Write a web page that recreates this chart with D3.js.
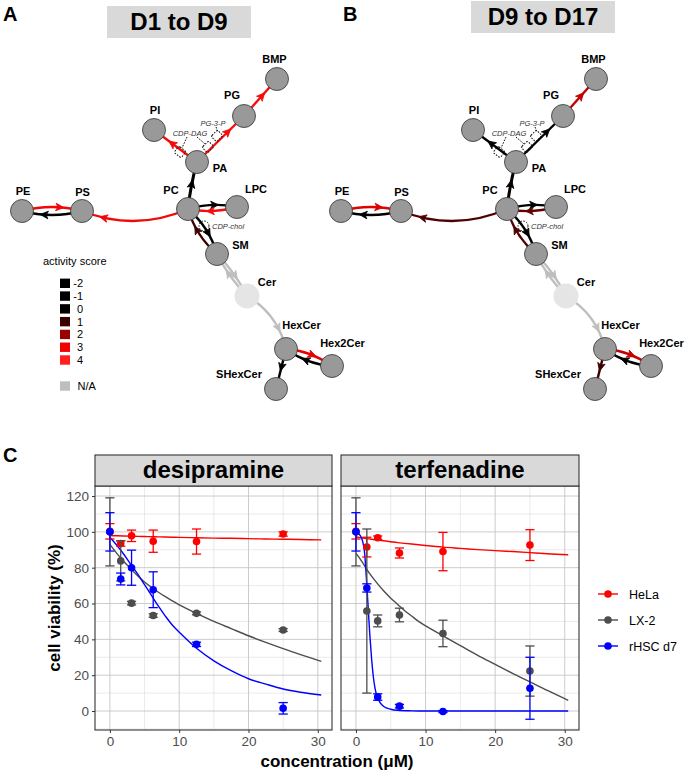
<!DOCTYPE html>
<html>
<head>
<meta charset="utf-8">
<script src="https://cdn.jsdelivr.net/npm/d3@7"></script>
<style>
  body { margin: 0; background: #fff; }
  svg { font-family: "Liberation Sans", Arial, sans-serif; }
</style>
</head>
<body>
<svg id="fig" width="686" height="772"></svg>
<script>
// ---------- network data ----------
const nodeNames = ["PE", "PS", "PC", "LPC", "PA", "PI", "PG", "BMP", "SM", "Cer", "HexCer", "Hex2Cer", "SHexCer"];
const edgeSource = ["PE", "PS", "PC", "PC", "LPC", "PC", "PA", "PA", "PG", "SM", "PC", "SM", "Cer", "Cer", "HexCer", "Hex2Cer", "HexCer"];
const edgeTarget = ["PS", "PE", "PS", "LPC", "PC", "PA", "PI", "PG", "BMP", "PC", "SM", "Cer", "SM", "HexCer", "Hex2Cer", "HexCer", "SHexCer"];
const scoreD1toD9  = [3.2, -1, 3.2, 0, 3.4, 0, 3.3, 3.4, 3.4, 1, 0, null, null, null, 2.9, -1, 0];
const scoreD9toD17 = [2.8, -1, 1.2, 0, 1.4, -1, 0, 0, 2.5, 1.2, 0, null, null, null, 2.5, -1, 1];
const legendScores = [-2, -1, 0, 1, 2, 3, 4];

// ---------- viability data ----------
const concentration = [0, 1.5625, 3.125, 6.25, 12.5, 25];
const cellLines = ["HeLa", "LX-2", "rHSC d7"];

const desHeLaMean = [100.3, 93.5, 97.8, 94.8, 94.6, 98.8];
const desHeLaSd   = [4.3, 1.5, 3.2, 6.2, 7.0, 1.2];
const desLX2Mean  = [100, 83.8, 60.2, 53.3, 54.5, 45.2];
const desLX2Sd    = [19, 11.2, 1.0, 1.0, 0.8, 0.8];
const desRHSCMean = [100, 73.7, 80, 67.7, 37.2, 1.5];
const desRHSCSd   = [10.7, 3.3, 9.8, 10, 1.2, 3.2];

const terfHeLaMean = [100.3, 91.5, 96.7, 88.2, 89, 92.6];
const terfHeLaSd   = [4.3, 5.5, 1.0, 2.8, 10.7, 8.6];
const terfLX2Mean  = [100, 55.8, 50.3, 53.6, 43.3, 22.3];
const terfLX2Sd    = [19, 45.8, 3.3, 3.8, 7.4, 14];
const terfRHSCMean = [100, 68.7, 7.8, 2.7, -0.3, 12.7];
const terfRHSCSd   = [10.7, 2.3, 1.8, 1.0, 0.5, 17.3];

// fitted curves
const desFitX     = [0, 1, 2, 3, 4, 5, 6, 7, 8, 9, 10, 12.5, 15, 17.5, 20, 22.5, 25, 27.5, 30.5];
const desHeLaFit  = [97.9, 97.8, 97.7, 97.6, 97.5, 97.4, 97.3, 97.2, 97.1, 97.0, 96.9, 96.7, 96.5, 96.4, 96.2, 96.0, 95.9, 95.7, 95.5];
const desLX2Fit   = [93, 88, 83.5, 79.5, 75.5, 72, 69, 66.3, 63.8, 61.5, 59.3, 54.5, 50, 46, 42, 38.3, 34.8, 31.5, 27.7];
const desRHSCFit  = [97, 92.5, 87.5, 82, 76.5, 70.5, 64.5, 58.5, 53, 48, 44, 35, 28, 22.5, 18, 15, 12.3, 10.5, 8.9];

const terfFitX    = [0, 0.5, 1, 1.5, 2, 3, 4, 5, 6, 7, 8, 9, 10, 12.5, 15, 17.5, 20, 22.5, 25, 27.5, 30.5];
const terfHeLaFit = [97.2, 96.9, 96.6, 96.3, 96.0, 95.5, 95.0, 94.5, 94.0, 93.6, 93.2, 92.8, 92.4, 91.5, 90.8, 90.1, 89.5, 89.0, 88.4, 87.8, 87.2];
const terfLX2Fit  = [88, 85.5, 82.5, 79.5, 76.5, 71.5, 67, 63, 59.5, 56, 53, 50, 47.5, 42, 36.5, 31, 26, 21, 16.3, 11.5, 6];
const terfRHSCFitX = [0, 0.5, 1, 1.25, 1.5, 1.75, 2, 2.25, 2.5, 2.75, 3, 3.5, 4, 5, 6, 8, 10, 15, 20, 25, 30.5];
const terfRHSCFit  = [99.5, 98.5, 94, 88, 74, 58, 42, 29, 19, 12.5, 8.5, 4.5, 2.5, 1, 0.4, 0.1, 0, 0, 0, 0, 0];

// ---------- layout ----------
const svg = d3.select("#fig");

// node placement (panel A coordinates; panel B is shifted)
const nodePos = {
  PE: [22, 211], PS: [82, 211], PC: [188, 209], LPC: [237, 207],
  PA: [197, 162], PI: [154, 130], PG: [244, 116], BMP: [277, 79],
  SM: [217, 254], Cer: [247, 296], HexCer: [286, 349], Hex2Cer: [332, 366], SHexCer: [276, 389]
};
const labelOff = {
  PE: [1, -16], PS: [0.5, -15.5], PC: [-17, -15.5], LPC: [19, -14], PA: [23, 9.5],
  PI: [1, -16], PG: [-12, -17], BMP: [-2.5, -16], SM: [23.5, -5], Cer: [20, -10],
  HexCer: [15.5, -19.7], Hex2Cer: [10.5, -19.3], SHexCer: [-37, -11.3]
};
const bends = { "PE-PS": 8, "PS-PE": 8, "PC-PS": 22, "PC-LPC": 6, "LPC-PC": 6,
  "SM-PC": 8, "PC-SM": 8, "SM-Cer": 4, "Cer-SM": 4, "Cer-HexCer": 14,
  "HexCer-Hex2Cer": 7, "Hex2Cer-HexCer": 7, "PC-PA": 2 };

const scoreColor = d3.scaleLinear()
  .domain([0, 1, 2, 3, 4])
  .range(["#000000", "#3d0000", "#990000", "#f00000", "#ff1f1f"])
  .clamp(true);
const naColor = "#bebebe";
const colorOf = s => (s === null ? naColor : scoreColor(s));

function drawNetwork(g, scores) {
  const nodes = nodeNames.map(n => ({ name: n, x: nodePos[n][0], y: nodePos[n][1], r: n === "Cer" ? 12.5 : 11.5 }));
  const byName = new Map(nodes.map(d => [d.name, d]));
  const edges = edgeSource.map((s, i) => ({ s: byName.get(s), t: byName.get(edgeTarget[i]), score: scores[i], key: s + "-" + edgeTarget[i] }));

  const edgeG = g.append("g");
  edges.forEach(e => {
    const b = bends[e.key] || 0;
    const dx = e.t.x - e.s.x, dy = e.t.y - e.s.y, len = Math.hypot(dx, dy);
    const p = d3.path();
    p.moveTo(e.s.x, e.s.y);
    p.quadraticCurveTo((e.s.x + e.t.x) / 2 + b * dy / len, (e.s.y + e.t.y) / 2 - b * dx / len, e.t.x, e.t.y);
    const col = colorOf(e.score);
    const path = edgeG.append("path")
      .attr("d", p.toString())
      .attr("fill", "none")
      .attr("stroke", col)
      .attr("stroke-width", e.key === "PC-PA" ? 3 : 2.4);
    const node = path.node();
    const L = node.getTotalLength();
    const at = L - (e.t.r + 8);
    const tip = node.getPointAtLength(at);
    const back = node.getPointAtLength(at - 3);
    const ang = Math.atan2(tip.y - back.y, tip.x - back.x) * 180 / Math.PI;
    edgeG.append("path")
      .attr("d", "M1,0 L-7,-3.8 L-5,0 L-7,3.8 Z")
      .attr("transform", `translate(${tip.x},${tip.y}) rotate(${ang})`)
      .attr("fill", col)
      .attr("stroke", col)
      .attr("stroke-width", 0.8);
  });

  // cofactor loops (dotted)
  const pa = byName.get("PA"), pc = byName.get("PC");
  const dotted = g.append("g")
    .attr("fill", "none")
    .attr("stroke", "#111")
    .attr("stroke-width", 1)
    .attr("stroke-dasharray", "1.6,1.3");
  const loops = [[-17, -10, 37], [11, -15, -45], [20, -26, -45]];
  loops.forEach(([ox, oy, rot]) => {
    dotted.append("rect")
      .attr("x", -4.5).attr("y", -4).attr("width", 9).attr("height", 8).attr("rx", 1.5)
      .attr("transform", `translate(${pa.x + ox},${pa.y + oy}) rotate(${rot})`);
  });
  dotted.append("path").attr("d", `M${pa.x - 10},${pa.y - 25} L${pa.x - 15},${pa.y - 14}`);
  dotted.append("path").attr("d", `M${pa.x},${pa.y - 25} L${pa.x + 8},${pa.y - 18}`);
  dotted.append("path").attr("d", `M${pa.x + 19},${pa.y - 35} L${pa.x + 21},${pa.y - 30}`);
  dotted.append("circle").attr("cx", pc.x + 16).attr("cy", pc.y + 17).attr("r", 5);

  const cof = g.append("g")
    .attr("font-size", 7.5)
    .attr("font-style", "italic")
    .attr("fill", "#333");
  cof.append("text").attr("x", pa.x - 7).attr("y", pa.y - 26).attr("text-anchor", "middle").text("CDP-DAG");
  cof.append("text").attr("x", pa.x + 16).attr("y", pa.y - 36).attr("text-anchor", "middle").text("PG-3-P");
  cof.append("text").attr("x", pc.x + 24).attr("y", pc.y + 20).text("CDP-chol");

  g.append("g").selectAll("circle")
    .data(nodes)
    .join("circle")
    .attr("cx", d => d.x)
    .attr("cy", d => d.y)
    .attr("r", d => d.r)
    .attr("fill", d => d.name === "Cer" ? "#e5e5e5" : "#999999")
    .attr("stroke", d => d.name === "Cer" ? "none" : "#333")
    .attr("stroke-width", 0.8);

  g.append("g").selectAll("text")
    .data(nodes)
    .join("text")
    .attr("x", d => d.x + labelOff[d.name][0])
    .attr("y", d => d.y + labelOff[d.name][1])
    .attr("text-anchor", "middle")
    .attr("font-size", 11)
    .attr("font-weight", "bold")
    .text(d => d.name);
}

function panelTitle(x, y, w, h, txt) {
  svg.append("rect").attr("x", x).attr("y", y).attr("width", w).attr("height", h).attr("fill", "#d9d9d9");
  svg.append("text").attr("x", x + w / 2).attr("y", y + h - 8).attr("text-anchor", "middle")
    .attr("font-size", 24).attr("font-weight", "bold").text(txt);
}

// panel letters
[["A", 3, 21], ["B", 343, 21], ["C", 3, 462]].forEach(([t, x, y]) => {
  svg.append("text").attr("x", x).attr("y", y).attr("font-size", 20).attr("font-weight", "bold").text(t);
});

panelTitle(107, 6, 144, 32, "D1 to D9");
panelTitle(471, 1, 144, 32, "D9 to D17");

drawNetwork(svg.append("g"), scoreD1toD9);
drawNetwork(svg.append("g").attr("transform", "translate(319,0)"), scoreD9toD17);

// activity score legend
const leg = svg.append("g");
leg.append("text").attr("x", 43).attr("y", 265).attr("font-size", 11).text("activity score");
const legY = d3.scalePoint().domain(legendScores).range([283.3, 360]);
leg.selectAll("rect.k")
  .data(legendScores)
  .join("rect")
  .attr("x", 60).attr("y", d => legY(d) - 4.7)
  .attr("width", 10).attr("height", 9.4)
  .attr("fill", d => scoreColor(d));
leg.selectAll("text.k")
  .data(legendScores)
  .join("text")
  .attr("class", "k")
  .attr("x", 83).attr("y", d => legY(d) + 4)
  .attr("text-anchor", "end")
  .attr("font-size", 11)
  .text(d => d);
leg.append("rect").attr("x", 60).attr("y", 381.3).attr("width", 10).attr("height", 9.4).attr("fill", naColor);
leg.append("text").attr("x", 77.5).attr("y", 390).attr("font-size", 11).text("N/A");

// ---------- panel C ----------
const lineColors = d3.scaleOrdinal(cellLines, ["#ff0000", "#4d4d4d", "#0000ff"]);
const y = d3.scaleLinear().domain([-10.6, 125.6]).range([730, 486]);

const drugs = [
  { name: "desipramine", x0: 95, x1: 332,
    means: [desHeLaMean, desLX2Mean, desRHSCMean], sds: [desHeLaSd, desLX2Sd, desRHSCSd],
    fits: [[desFitX, desHeLaFit], [desFitX, desLX2Fit], [desFitX, desRHSCFit]] },
  { name: "terfenadine", x0: 341, x1: 579,
    means: [terfHeLaMean, terfLX2Mean, terfRHSCMean], sds: [terfHeLaSd, terfLX2Sd, terfRHSCSd],
    fits: [[terfFitX, terfHeLaFit], [terfFitX, terfLX2Fit], [terfRHSCFitX, terfRHSCFit]] }
];

drugs.forEach((dr, pi) => {
  const x = d3.scaleLinear().domain([-2.15, 32.05]).range([dr.x0, dr.x1]);
  const g = svg.append("g");

  // grid
  const minorX = [5, 15, 25], majorX = [0, 10, 20, 30];
  const minorY = [-10, 10, 30, 50, 70, 90, 110], majorY = [0, 20, 40, 60, 80, 100, 120];
  g.append("g").selectAll("line").data(minorX).join("line")
    .attr("x1", x).attr("x2", x).attr("y1", 486).attr("y2", 730)
    .attr("stroke", "#dcdcdc").attr("stroke-width", 0.6);
  g.append("g").selectAll("line").data(minorY).join("line")
    .attr("x1", dr.x0).attr("x2", dr.x1).attr("y1", y).attr("y2", y)
    .attr("stroke", "#dcdcdc").attr("stroke-width", 0.6);
  g.append("g").selectAll("line").data(majorX).join("line")
    .attr("x1", x).attr("x2", x).attr("y1", 486).attr("y2", 730)
    .attr("stroke", "#c6c6c6").attr("stroke-width", 0.9);
  g.append("g").selectAll("line").data(majorY).join("line")
    .attr("x1", dr.x0).attr("x2", dr.x1).attr("y1", y).attr("y2", y)
    .attr("stroke", "#c6c6c6").attr("stroke-width", 0.9);

  // fitted curves (smooth ones through catmull-rom, the steep one monotone)
  dr.fits.forEach(([fx, fy], i) => {
    const steep = dr.name === "terfenadine" && i === 2;
    const line = d3.line().x(d => x(d[0])).y(d => y(d[1]))
      .curve(steep ? d3.curveMonotoneX : d3.curveCatmullRom.alpha(0.5));
    g.append("path")
      .datum(fx.map((v, j) => [v, fy[j]]))
      .attr("d", line)
      .attr("fill", "none")
      .attr("stroke", lineColors(cellLines[i]))
      .attr("stroke-width", 1.4);
  });

  // error bars + points
  dr.means.forEach((m, i) => {
    const col = lineColors(cellLines[i]);
    const pts = concentration.map((c, j) => ({ c, m: m[j], sd: dr.sds[i][j] }));
    const eb = g.append("g").attr("stroke", col).attr("stroke-width", 1.3);
    pts.forEach(p => {
      eb.append("line").attr("x1", x(p.c)).attr("x2", x(p.c)).attr("y1", y(p.m - p.sd)).attr("y2", y(p.m + p.sd));
      eb.append("line").attr("x1", x(p.c) - 4.6).attr("x2", x(p.c) + 4.6).attr("y1", y(p.m - p.sd)).attr("y2", y(p.m - p.sd));
      eb.append("line").attr("x1", x(p.c) - 4.6).attr("x2", x(p.c) + 4.6).attr("y1", y(p.m + p.sd)).attr("y2", y(p.m + p.sd));
    });
    g.append("g").selectAll("circle").data(pts).join("circle")
      .attr("cx", p => x(p.c)).attr("cy", p => y(p.m)).attr("r", 3.8).attr("fill", col);
  });

  // border + strip
  g.append("rect").attr("x", dr.x0).attr("y", 486).attr("width", dr.x1 - dr.x0).attr("height", 244)
    .attr("fill", "none").attr("stroke", "#333").attr("stroke-width", 1.1);
  g.append("rect").attr("x", dr.x0).attr("y", 455).attr("width", dr.x1 - dr.x0).attr("height", 31)
    .attr("fill", "#d9d9d9").attr("stroke", "#333").attr("stroke-width", 1.1);
  g.append("text").attr("x", (dr.x0 + dr.x1) / 2).attr("y", 478).attr("text-anchor", "middle")
    .attr("font-size", 24).attr("font-weight", "bold").text(dr.name);

  // x axis
  const xa = g.append("g")
    .attr("transform", "translate(0,730)")
    .call(d3.axisBottom(x).tickValues(majorX).tickSize(3).tickPadding(3));
  xa.select(".domain").remove();
  xa.selectAll("line").attr("stroke", "#333");
  xa.selectAll("text").attr("font-size", 13.5).attr("fill", "#4d4d4d").attr("font-family", "Liberation Sans, Arial, sans-serif");

  if (pi === 0) {
    const ya = g.append("g")
      .attr("transform", `translate(${dr.x0},0)`)
      .call(d3.axisLeft(y).tickValues(majorY).tickSize(3).tickPadding(3));
    ya.select(".domain").remove();
    ya.selectAll("line").attr("stroke", "#333");
    ya.selectAll("text").attr("font-size", 13.5).attr("fill", "#4d4d4d").attr("font-family", "Liberation Sans, Arial, sans-serif");
  }
});

svg.append("text").attr("transform", "translate(60,608) rotate(-90)").attr("text-anchor", "middle")
  .attr("font-size", 17).attr("font-weight", "bold").text("cell viability (%)");
svg.append("text").attr("x", 337).attr("y", 767).attr("text-anchor", "middle")
  .attr("font-size", 17).attr("font-weight", "bold").text("concentration (μM)");

// cell line legend
const legC = svg.append("g");
const legCY = d3.scalePoint().domain(cellLines).range([594, 646]);
cellLines.forEach(n => {
  const yy = legCY(n);
  legC.append("line").attr("x1", 598).attr("x2", 618).attr("y1", yy).attr("y2", yy)
    .attr("stroke", lineColors(n)).attr("stroke-width", 1.4);
  legC.append("circle").attr("cx", 608).attr("cy", yy).attr("r", 3.8).attr("fill", lineColors(n));
  legC.append("text").attr("x", 629).attr("y", yy + 4.5).attr("font-size", 12.5).text(n);
});
</script>
</body>
</html>
